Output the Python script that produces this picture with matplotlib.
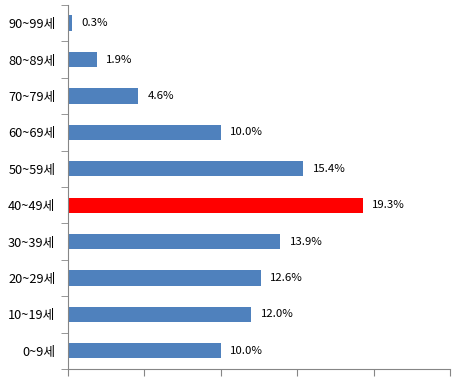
import numpy as np
import matplotlib.pyplot as plt

plt.rcParams['font.family'] = ['Noto Sans CJK KR', 'DejaVu Sans']

# 연령대별 비율 (%)
ages = ['0~9세', '10~19세', '20~29세', '30~39세', '40~49세',
        '50~59세', '60~69세', '70~79세', '80~89세', '90~99세']
ratios = [10.0, 12.0, 12.6, 13.9, 19.3, 15.4, 10.0, 4.6, 1.9, 0.3]
highlight = '40~49세'

blue = '#4F81BD'
red = '#FF0000'
axis_gray = '#868686'

fig = plt.figure(figsize=(4.65, 3.8), dpi=100)
ax = fig.add_axes([0.146, 0.029, 0.822, 0.958])

y = np.arange(len(ages))
colors = [red if a == highlight else blue for a in ages]
ax.barh(y, ratios, height=0.42, color=colors)

for yi, v in zip(y, ratios):
    ax.text(v + 0.6, yi, f'{v:.1f}%', va='center', ha='left', fontsize=8.2)

ax.set_xlim(0, 25)
ax.set_ylim(-0.5, len(ages) - 0.5)
ax.set_xticks(np.arange(0, 26, 5))
ax.set_xticklabels([])
ax.set_yticks(y)
ax.set_yticklabels(ages, fontsize=9.2)
ax.set_yticks(np.arange(-0.5, len(ages), 1), minor=True)
ax.tick_params(axis='y', which='major', length=0, pad=9)
ax.tick_params(axis='y', which='minor', length=5, color=axis_gray, direction='out')
ax.tick_params(axis='x', length=5, color=axis_gray, direction='out')

for side in ['top', 'right']:
    ax.spines[side].set_visible(False)
for side in ['left', 'bottom']:
    ax.spines[side].set_color(axis_gray)

plt.savefig('out.png', dpi=100)
